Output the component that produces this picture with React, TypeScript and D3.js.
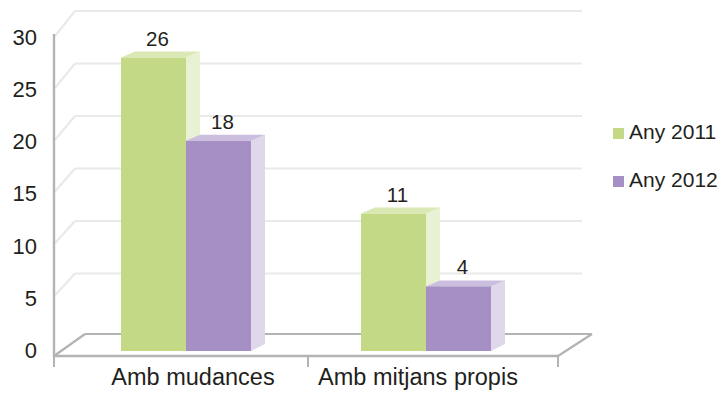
import * as d3 from 'd3'

const categories = ['Amb mudances', 'Amb mitjans propis']
const seriesNames = ['Any 2011', 'Any 2012']
const values2011 = [26, 11]
const values2012 = [18, 4]
const yTicks = [0, 5, 10, 15, 20, 25, 30]

const fronts = ['#c3d985', '#a68fc4']
const sides = ['#e8f1d4', '#dfd8ea']
const tops = ['#d9e8b4', '#cbbede']

const W = 727
const H = 395
const font = 'Arial, "Liberation Sans", sans-serif'

export default function App() {
  const series = [values2011, values2012]

  // front axis labels, side wall, back wall and bar scales (fake perspective)
  const yLabel = d3.scaleLinear().domain([0, 30]).range([350, 37])
  const ySideFront = d3.scaleLinear().domain([0, 30]).range([347, 36])
  const yBack = d3.scaleLinear().domain([0, 30]).range([326, 11])
  const yBar = d3.scaleLinear().domain([0, 30]).range([328, 16])
  const floorY = 351

  const xCat = d3.scaleBand<string>().domain(categories).range([66, 546])
  const xSub = d3.scaleBand<string>().domain(seriesNames).range([0, 130])
  const xLabelCat = d3.scaleBand<string>().domain(categories).range([82, 530])

  const depthX = 14
  const depthY = -6

  const axisX = 54
  const frontFloor = 356
  const backFloor = 334
  const backLeft = 85
  const backRight = 592
  const frontRight = 558

  return (
    <div style={{ position: 'absolute', left: 0, top: 0 }}>
      <svg width={W} height={H} style={{ display: 'block', fontFamily: font }}>
        <rect width={W} height={H} fill="#fff" />

        {/* back wall and side wall gridlines */}
        {yTicks.filter(t => t > 0).map(t => (
          <g key={'g' + t}>
            <line x1={75} x2={582} y1={yBack(t)} y2={yBack(t)} stroke="#e9e9e9" strokeWidth={2.2} />
            <line x1={axisX + 1} y1={ySideFront(t)} x2={75} y2={yBack(t)} stroke="#e9e9e9" strokeWidth={2.2} />
          </g>
        ))}

        {/* floor */}
        <line x1={backLeft} x2={backRight} y1={backFloor} y2={backFloor} stroke="#b3b3b5" strokeWidth={2.2} />
        <line x1={axisX} y1={frontFloor} x2={backLeft} y2={backFloor} stroke="#b3b3b5" strokeWidth={2.2} />
        <line x1={frontRight} y1={frontFloor} x2={backRight} y2={backFloor} stroke="#b3b3b5" strokeWidth={2.2} />
        <line x1={axisX} x2={frontRight} y1={frontFloor} y2={frontFloor} stroke="#b3b3b5" strokeWidth={2.4} />
        {[axisX, (axisX + frontRight) / 2 + 2, frontRight].map((x, i) => (
          <line key={'tk' + i} x1={x} x2={x} y1={frontFloor} y2={367} stroke="#b3b3b5" strokeWidth={2} />
        ))}

        {/* vertical axis */}
        <line x1={axisX} x2={axisX} y1={34} y2={frontFloor + 1} stroke="#b3b3b5" strokeWidth={2.4} />
        {yTicks.map(t => (
          <text key={'yl' + t} x={37} y={yLabel(t)} dy="0.36em" textAnchor="end" fontSize={22} fill="#231f20">
            {t}
          </text>
        ))}

        {/* bars */}
        {categories.map((c, ci) => {
          const gx = (xCat(c) as number) + xCat.bandwidth() / 2 - 65
          return (
            <g key={c}>
              {seriesNames.map((s, si) => {
                const v = series[si][ci]
                const x0 = gx + (xSub(s) as number)
                const x1 = x0 + xSub.bandwidth()
                const yt = yBar(v)
                return (
                  <g key={s}>
                    <polygon
                      points={`${x1},${yt} ${x1 + depthX},${yt + depthY} ${x1 + depthX},${floorY + depthY - 1} ${x1},${floorY}`}
                      fill={sides[si]}
                    />
                    <polygon
                      points={`${x0},${yt} ${x0 + depthX},${yt + depthY} ${x1 + depthX},${yt + depthY} ${x1},${yt}`}
                      fill={tops[si]}
                    />
                    <rect x={x0} y={yt} width={x1 - x0} height={floorY - yt} fill={fronts[si]} />
                  </g>
                )
              })}
              {seriesNames.map((s, si) => {
                const v = series[si][ci]
                const x0 = gx + (xSub(s) as number)
                return (
                  <text
                    key={'dl' + s}
                    x={x0 + xSub.bandwidth() / 2 + 4}
                    y={yBar(v) - 12}
                    textAnchor="middle"
                    fontSize={20.5}
                    fill="#231f20"
                  >
                    {v}
                  </text>
                )
              })}
            </g>
          )
        })}

        {/* category labels */}
        {categories.map((c, ci) => (
          <text
            key={'cl' + c}
            x={(xLabelCat(c) as number) + xLabelCat.bandwidth() / 2 + (ci === 0 ? -1 : 0)}
            y={385}
            textAnchor="middle"
            fontSize={23.5}
            fill="#231f20"
          >
            {c}
          </text>
        ))}

        {/* legend */}
        {seriesNames.map((s, si) => (
          <g key={'lg' + s} transform={`translate(613, ${128 + si * 48})`}>
            <rect x={0} y={0} width={11} height={11} fill={fronts[si]} />
            <text x={16} y={11} fontSize={21} fill="#231f20">
              {s}
            </text>
          </g>
        ))}
      </svg>
    </div>
  )
}
